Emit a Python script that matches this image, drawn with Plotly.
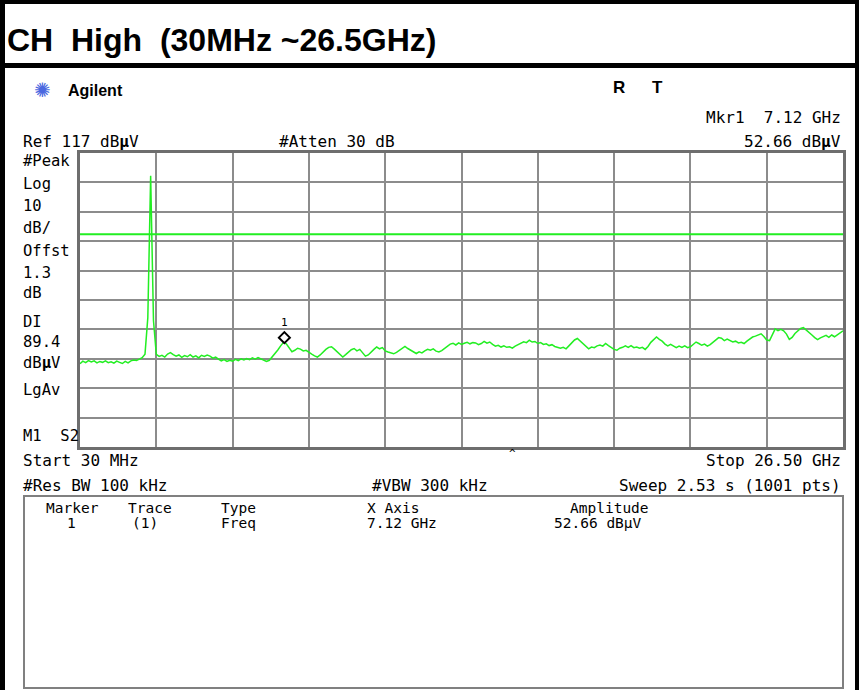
import numpy as np
import plotly.graph_objects as go

W, H = 859, 690

start_ghz = 0.03
stop_ghz = 26.50
ref_level = 117.0
db_per_div = 10.0
display_line = 89.4
marker_freq_ghz = 7.12
marker_level = 52.66

level_dbuv = [
    45.3, 46.2, 45.7, 46.4, 45.9, 46.3, 45.6, 46.1, 45.8, 46.3,
    45.7, 46.0, 45.5, 46.2, 45.8, 45.4, 46.1, 45.6, 46.3, 46.6,
    46.4, 47.0, 47.4, 48.6, 61.0, 109.3, 60.0, 48.5, 47.8, 48.2,
    47.6, 48.6, 49.1, 48.4, 47.9, 48.3, 47.5, 48.1, 47.7, 48.4,
    47.6, 48.0, 47.3, 48.2, 47.8, 48.3, 47.9, 47.2, 47.6, 46.9,
    46.3, 46.7, 46.1, 46.5, 46.2, 46.8, 46.4, 47.0, 46.6, 47.1,
    46.7, 47.3, 46.9, 47.4, 47.0, 46.6, 46.1, 46.5, 47.6, 48.8,
    50.0, 51.4, 52.6, 52.1, 50.6, 49.4, 49.9, 50.6, 50.3, 49.7,
    49.9, 49.1, 48.6, 48.0, 47.6, 48.3, 49.3, 50.2, 50.9, 51.1,
    50.3, 49.4, 48.5, 47.6, 48.4, 49.3, 50.1, 50.5, 49.7, 50.2,
    49.0, 47.9, 48.3, 49.4, 50.2, 51.0, 50.4, 50.8, 49.7, 49.3,
    48.9, 48.7, 49.2, 49.8, 50.6, 51.2, 50.5, 50.0, 49.3, 48.8,
    49.4, 49.0, 49.7, 50.2, 49.9, 50.4, 49.6, 49.3, 49.8, 50.6,
    51.3, 52.0, 52.3, 51.7, 52.4, 51.9, 52.3, 52.6, 52.1, 52.5,
    52.4, 51.8, 52.2, 52.9, 52.3, 52.7, 51.9, 51.3, 51.6, 51.0,
    51.4, 50.9, 51.1, 50.6, 51.3, 51.8, 52.4, 52.8, 52.5, 53.3,
    52.7, 52.9, 52.2, 52.5, 51.9, 52.1, 51.5, 51.8, 51.2, 51.0,
    50.6, 50.9, 50.4, 51.4, 52.5, 53.4, 53.9, 53.1, 52.2, 51.3,
    50.4, 51.0, 50.8, 51.4, 51.7, 51.3, 52.2, 51.5, 50.8, 50.2,
    49.9, 50.6, 50.9, 51.4, 50.9, 51.5, 50.8, 51.0, 50.6, 50.9,
    50.2, 51.2, 52.6, 53.5, 54.4, 53.6, 53.0, 52.0, 51.4, 51.9,
    51.2, 50.8, 51.3, 50.9, 51.4, 50.8, 51.1, 51.9, 52.7, 52.2,
    51.6, 52.0, 51.3, 51.8, 52.6, 53.4, 54.2, 54.0, 53.2, 53.7,
    53.3, 52.7, 53.0, 52.4, 52.6, 52.2, 53.0, 53.8, 54.4, 54.7,
    55.2, 55.5, 54.6, 53.4, 53.2, 55.0, 57.2, 56.6, 57.0, 56.5,
    55.4, 53.6, 54.3, 55.6, 56.4, 57.3, 57.6, 56.8, 56.2, 55.1,
    54.2, 53.5, 54.1, 54.6, 55.0, 54.3, 55.1, 54.5, 55.2, 55.9,
    56.5,
]
freq_ghz = np.linspace(start_ghz, stop_ghz, len(level_dbuv))

MONO = "DejaVu Sans Mono"
SANS = "Liberation Sans"
GREEN = "#22ee22"


def px(x):
    return x / W


def py(y):
    return 1 - y / H


fig = go.Figure()

fig.add_trace(go.Scatter(
    x=freq_ghz, y=level_dbuv, mode="lines",
    line=dict(color=GREEN, width=1.5), hoverinfo="skip", showlegend=False,
))

shapes = []
# display line
shapes.append(dict(type="line", xref="x", yref="y", x0=start_ghz, x1=stop_ghz,
                   y0=display_line, y1=display_line,
                   line=dict(color=GREEN, width=2), layer="above"))

# marker diamond, drawn just above the marked trace point
shapes.append(dict(type="path", xref="x", yref="y",
                   xsizemode="pixel", ysizemode="pixel",
                   xanchor=marker_freq_ghz, yanchor=marker_level,
                   path="M 0,-1 L 5.5,4.5 L 0,10 L -5.5,4.5 Z",
                   line=dict(color="black", width=2), fillcolor="rgba(0,0,0,0)",
                   layer="above"))


def black_rect(x0, y0, x1, y1, color="black"):
    shapes.append(dict(type="rect", xref="paper", yref="paper",
                       x0=px(x0), x1=px(x1), y0=py(y1), y1=py(y0),
                       fillcolor=color, line=dict(width=0), layer="above"))


black_rect(0, 0, W, 4)
black_rect(0, 63, W, 68)
black_rect(0, 0, 5, H)
black_rect(855, 0, W, H)

# marker table box
shapes.append(dict(type="rect", xref="paper", yref="paper",
                   x0=px(24), x1=px(843), y0=py(688), y1=py(496),
                   line=dict(color="#808080", width=2), fillcolor="rgba(0,0,0,0)"))

annotations = []


def txt(x, y, text, size=16, anchor="left", family=MONO, color="black"):
    annotations.append(dict(xref="paper", yref="paper", x=px(x), y=py(y),
                            text=text, showarrow=False, xanchor=anchor,
                            yanchor="middle", borderpad=0,
                            font=dict(family=family, size=size, color=color)))


NB = "\u00a0"
txt(6, 40, "<b>CH" + NB * 2 + "High" + NB * 2 + "(30MHz" + NB + "~26.5GHz)</b>",
    size=32, family=SANS)

txt(33, 90, "✺", size=20, family="DejaVu Sans", color="#4a68e0")
txt(67, 90, "<b>Agilent</b>", size=16, family=SANS)
txt(612, 88, "<b>R</b>", size=17, family=SANS)
txt(651, 88, "<b>T</b>", size=17, family=SANS)

txt(842, 117, "Mkr1" + NB * 2 + "7.12 GHz", anchor="right")
txt(22, 142, "Ref 117 dB<b>µ</b>V")
txt(278, 142, "#Atten 30 dB")
txt(842, 142, "52.66 dB<b>µ</b>V", anchor="right")

left_labels = [
    (161, "#Peak"), (184, "Log"), (206, "10"), (228, "dB/"), (251, "Offst"),
    (273, "1.3"), (293, "dB"), (322, "DI"), (342, "89.4"),
    (363, "dB<b>µ</b>V"), (390, "LgAv"), (436, "M1" + NB * 2 + "S2"),
]
for y, t in left_labels:
    txt(22, y, t, size=15.5)

txt(508, 453, "^", size=11)
txt(22, 460, "Start 30 MHz")
txt(842, 460, "Stop 26.50 GHz", anchor="right")
txt(22, 485, "#Res BW 100 kHz")
txt(371, 485, "#VBW 300 kHz")
txt(842, 485, "Sweep 2.53 s (1001 pts)", anchor="right")

TS = 14.5
txt(45, 508, "Marker", size=TS)
txt(127, 508, "Trace", size=TS)
txt(220, 508, "Type", size=TS)
txt(366, 508, "X Axis", size=TS)
txt(569, 508, "Amplitude", size=TS)
txt(66, 523, "1", size=TS)
txt(131, 523, "(1)", size=TS)
txt(220, 523, "Freq", size=TS)
txt(366, 523, "7.12 GHz", size=TS)
txt(553, 523, "52.66 dBµV", size=TS)

# marker number label
annotations.append(dict(xref="x", yref="y", x=marker_freq_ghz, y=marker_level,
                        text="1", showarrow=False, yshift=20, yanchor="middle",
                        font=dict(family=MONO, size=11, color="black")))

fig.update_layout(
    width=W, height=H, autosize=False,
    margin=dict(l=0, r=0, t=0, b=0),
    paper_bgcolor="white", plot_bgcolor="white",
    shapes=shapes, annotations=annotations,
    xaxis=dict(domain=[px(80), px(843)], range=[start_ghz, stop_ghz],
               tick0=start_ghz, dtick=(stop_ghz - start_ghz) / 10,
               showgrid=True, gridcolor="#8c8c8c", gridwidth=2,
               showline=True, linecolor="#6e6e6e", linewidth=3, mirror=True,
               showticklabels=False, ticks="", zeroline=False, fixedrange=True),
    yaxis=dict(domain=[py(447), py(153)], range=[ref_level - 10 * db_per_div, ref_level],
               tick0=ref_level - 10 * db_per_div, dtick=db_per_div,
               showgrid=True, gridcolor="#8c8c8c", gridwidth=2,
               showline=True, linecolor="#6e6e6e", linewidth=3, mirror=True,
               showticklabels=False, ticks="", zeroline=False, fixedrange=True),
)

fig.write_html("out.html", config={"displayModeBar": False},
               post_script="document.body.style.margin='0';document.body.style.overflow='hidden';")
